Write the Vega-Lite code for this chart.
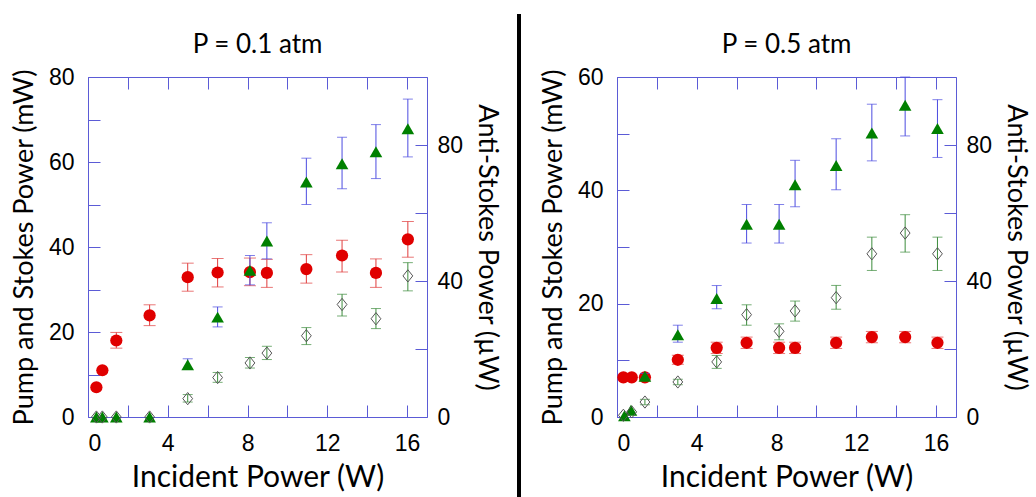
{
  "$schema": "https://vega.github.io/schema/vega-lite/v6.json",
  "background": "white",
  "padding": {"left": 10, "top": 12, "right": 0, "bottom": 0},
  "config": {
    "view": {"stroke": null},
    "axis": {
      "grid": false,
      "minExtent": 0,
      "domainColor": "#5b5bd6",
      "tickColor": "#5b5bd6",
      "tickSize": -12,
      "labelFont": "Liberation Sans",
      "labelFontSize": 23,
      "labelColor": "black",
      "titleFont": "Lato",
      "titleFontSize": 27,
      "titleFontWeight": "normal",
      "titleColor": "black"
    }
  },
  "datasets": {
    "pts": [
      {"p":"0.1","s":"pump","w":0.42,"v":7},
      {"p":"0.1","s":"pump","w":0.72,"v":11},
      {"p":"0.1","s":"pump","w":1.42,"v":18,"lo":16.2,"hi":19.9},
      {"p":"0.1","s":"pump","w":3.09,"v":23.9,"lo":21.5,"hi":26.4},
      {"p":"0.1","s":"pump","w":5.0,"v":32.9,"lo":29.6,"hi":36.2},
      {"p":"0.1","s":"pump","w":6.5,"v":34.0,"lo":30.6,"hi":37.3},
      {"p":"0.1","s":"pump","w":8.12,"v":34.1,"lo":30.9,"hi":37.4},
      {"p":"0.1","s":"pump","w":8.97,"v":33.9,"lo":30.5,"hi":37.1},
      {"p":"0.1","s":"pump","w":10.95,"v":34.8,"lo":31.5,"hi":38.2},
      {"p":"0.1","s":"pump","w":12.74,"v":38.0,"lo":34.1,"hi":41.6},
      {"p":"0.1","s":"pump","w":14.44,"v":33.9,"lo":30.5,"hi":37.2},
      {"p":"0.1","s":"pump","w":16.04,"v":41.8,"lo":37.6,"hi":46.0},
      {"p":"0.1","s":"stokes","w":0.42,"v":0},
      {"p":"0.1","s":"stokes","w":0.72,"v":0},
      {"p":"0.1","s":"stokes","w":1.42,"v":0},
      {"p":"0.1","s":"stokes","w":3.09,"v":0},
      {"p":"0.1","s":"stokes","w":5.0,"v":12.3,"lo":11.2,"hi":13.7},
      {"p":"0.1","s":"stokes","w":6.5,"v":23.5,"lo":21.2,"hi":25.9},
      {"p":"0.1","s":"stokes","w":8.12,"v":34.5,"lo":31.1,"hi":38.0},
      {"p":"0.1","s":"stokes","w":8.97,"v":41.4,"lo":37.2,"hi":45.7},
      {"p":"0.1","s":"stokes","w":10.95,"v":55.3,"lo":50.0,"hi":60.9},
      {"p":"0.1","s":"stokes","w":12.74,"v":59.6,"lo":53.7,"hi":65.8},
      {"p":"0.1","s":"stokes","w":14.44,"v":62.4,"lo":56.1,"hi":68.8},
      {"p":"0.1","s":"stokes","w":16.04,"v":67.8,"lo":61.2,"hi":74.8},
      {"p":"0.1","s":"anti","w":0.42,"v":0},
      {"p":"0.1","s":"anti","w":0.72,"v":0},
      {"p":"0.1","s":"anti","w":1.42,"v":0},
      {"p":"0.1","s":"anti","w":3.09,"v":0},
      {"p":"0.1","s":"anti","w":5.0,"v":5.4,"lo":4.4,"hi":6.6},
      {"p":"0.1","s":"anti","w":6.5,"v":11.6,"lo":10.2,"hi":13.1},
      {"p":"0.1","s":"anti","w":8.12,"v":15.9,"lo":14.4,"hi":17.5},
      {"p":"0.1","s":"anti","w":8.97,"v":18.8,"lo":16.9,"hi":20.8},
      {"p":"0.1","s":"anti","w":10.95,"v":23.9,"lo":21.3,"hi":26.3},
      {"p":"0.1","s":"anti","w":12.74,"v":33.1,"lo":29.7,"hi":36.1},
      {"p":"0.1","s":"anti","w":14.44,"v":28.9,"lo":26.0,"hi":31.9},
      {"p":"0.1","s":"anti","w":16.04,"v":41.5,"lo":37.1,"hi":45.4},
      {"p":"0.5","s":"pump","w":0.32,"v":7},
      {"p":"0.5","s":"pump","w":0.74,"v":7},
      {"p":"0.5","s":"pump","w":1.4,"v":7},
      {"p":"0.5","s":"pump","w":3.05,"v":10.1,"lo":9.3,"hi":10.9},
      {"p":"0.5","s":"pump","w":5.0,"v":12.2,"lo":11.2,"hi":13.2},
      {"p":"0.5","s":"pump","w":6.5,"v":13.1,"lo":12.1,"hi":14.1},
      {"p":"0.5","s":"pump","w":8.13,"v":12.2,"lo":11.2,"hi":13.2},
      {"p":"0.5","s":"pump","w":8.93,"v":12.2,"lo":11.2,"hi":13.2},
      {"p":"0.5","s":"pump","w":10.99,"v":13.1,"lo":12.1,"hi":14.1},
      {"p":"0.5","s":"pump","w":12.78,"v":14.1,"lo":13.1,"hi":15.1},
      {"p":"0.5","s":"pump","w":14.45,"v":14.1,"lo":13.1,"hi":15.1},
      {"p":"0.5","s":"pump","w":16.07,"v":13.1,"lo":12.1,"hi":14.1},
      {"p":"0.5","s":"stokes","w":0.37,"v":0.2},
      {"p":"0.5","s":"stokes","w":0.7,"v":1.2},
      {"p":"0.5","s":"stokes","w":1.4,"v":7.2,"lo":6.7,"hi":7.7},
      {"p":"0.5","s":"stokes","w":3.05,"v":14.5,"lo":13.2,"hi":16.2},
      {"p":"0.5","s":"stokes","w":5.0,"v":20.9,"lo":19.1,"hi":23.2},
      {"p":"0.5","s":"stokes","w":6.5,"v":34.0,"lo":30.7,"hi":37.5},
      {"p":"0.5","s":"stokes","w":8.13,"v":34.0,"lo":30.7,"hi":37.5},
      {"p":"0.5","s":"stokes","w":8.93,"v":41.0,"lo":37.1,"hi":45.3},
      {"p":"0.5","s":"stokes","w":10.99,"v":44.4,"lo":40.1,"hi":49.1},
      {"p":"0.5","s":"stokes","w":12.78,"v":50.1,"lo":45.2,"hi":55.2},
      {"p":"0.5","s":"stokes","w":14.45,"v":55.0,"lo":49.6,"hi":60.0},
      {"p":"0.5","s":"stokes","w":16.07,"v":50.9,"lo":45.8,"hi":56.0},
      {"p":"0.5","s":"anti","w":0.32,"v":0.5},
      {"p":"0.5","s":"anti","w":0.74,"v":1.5},
      {"p":"0.5","s":"anti","w":1.4,"v":4.4,"lo":3.6,"hi":5.2},
      {"p":"0.5","s":"anti","w":3.05,"v":10.3,"lo":9.5,"hi":11.1},
      {"p":"0.5","s":"anti","w":5.0,"v":16.2,"lo":14.3,"hi":18.1},
      {"p":"0.5","s":"anti","w":6.5,"v":30.1,"lo":27.0,"hi":33.0},
      {"p":"0.5","s":"anti","w":8.13,"v":25.2,"lo":22.7,"hi":27.4},
      {"p":"0.5","s":"anti","w":8.93,"v":31.2,"lo":28.2,"hi":34.1},
      {"p":"0.5","s":"anti","w":10.99,"v":35.1,"lo":31.7,"hi":38.7},
      {"p":"0.5","s":"anti","w":12.78,"v":48.0,"lo":43.1,"hi":52.9},
      {"p":"0.5","s":"anti","w":14.45,"v":54.1,"lo":48.5,"hi":59.5},
      {"p":"0.5","s":"anti","w":16.07,"v":48.0,"lo":43.1,"hi":52.9}
    ]
  },
  "spacing": 16,
  "hconcat": [
    {
      "width": 339, "height": 340,
      "data": {"name": "pts"},
      "transform": [{"filter": "datum.p === '0.1'"}],
      "title": {"text": "P = 0.1 atm", "font": "Lato", "fontSize": 26, "fontWeight": "normal", "anchor": "middle", "baseline": "alphabetic", "offset": -13, "color": "black"},
      "layer": [
        {
          "encoding": {
            "x": {"field": "w", "type": "quantitative", "scale": {"domain": [0, 17], "nice": false},
              "axis": {"orient": "bottom", "values": [0,2,4,6,8,10,12,14,16], "labelExpr": "datum.value % 4 === 0 ? datum.label : ''", "labelPadding": 27, "title": "Incident Power (W)", "titleFontSize": 30, "titlePadding": 7}}
          },
          "layer": [
            {"transform": [{"filter": "datum.s === 'pump' && isValid(datum.lo)"}],
             "mark": {"type": "errorbar", "color": "#e03c3c", "ticks": {"size": 12}},
             "encoding": {"y": {"field": "lo", "type": "quantitative", "title": "Pump and Stokes Power (mW)", "scale": {"domain": [0, 80], "nice": false}}, "y2": {"field": "hi"}}},
            {"transform": [{"filter": "datum.s === 'pump'"}],
             "mark": {"type": "point", "shape": "circle", "filled": true, "color": "#e00000", "size": 150, "opacity": 1},
             "encoding": {"y": {"field": "v", "type": "quantitative", "title": "Pump and Stokes Power (mW)", "scale": {"domain": [0, 80], "nice": false},
               "axis": {"orient": "left", "values": [0,10,20,30,40,50,60,70,80], "labelExpr": "datum.value % 20 === 0 ? datum.label : ''", "labelPadding": 26, "titlePadding": 10}}}},
            {"transform": [{"filter": "datum.s === 'stokes' && isValid(datum.lo)"}],
             "mark": {"type": "errorbar", "color": "#4b4be0", "ticks": {"size": 10}},
             "encoding": {"y": {"field": "lo", "type": "quantitative", "title": "Pump and Stokes Power (mW)"}, "y2": {"field": "hi"}}},
            {"transform": [{"filter": "datum.s === 'stokes'"}],
             "mark": {"type": "point", "shape": "triangle-up", "filled": true, "color": "#008000", "size": 160, "opacity": 1},
             "encoding": {"y": {"field": "v", "type": "quantitative", "title": "Pump and Stokes Power (mW)"}}}
          ]
        },
        {
          "encoding": {
            "x": {"field": "w", "type": "quantitative", "scale": {"domain": [0, 17], "nice": false},
              "axis": {"orient": "top", "values": [0,2,4,6,8,10,12,14,16], "labels": false, "title": null, "minExtent": 0}}
          },
          "layer": [
            {"transform": [{"filter": "datum.s === 'anti' && isValid(datum.lo)"}],
             "mark": {"type": "errorbar", "color": "#3c8c3c", "ticks": {"size": 10}},
             "encoding": {"y": {"field": "lo", "type": "quantitative", "title": "Anti-Stokes Power (µW)", "scale": {"domain": [0, 100], "nice": false}}, "y2": {"field": "hi"}}},
            {"transform": [{"filter": "datum.s === 'anti'"}],
             "mark": {"type": "point", "shape": "M0,-1L0.8,0L0,1L-0.8,0Z", "filled": false, "stroke": "#555555", "strokeWidth": 1, "size": 150, "opacity": 1},
             "encoding": {"y": {"field": "v", "type": "quantitative", "title": "Anti-Stokes Power (µW)", "scale": {"domain": [0, 100], "nice": false},
               "axis": {"orient": "right", "values": [0,20,40,60,80,100], "labelExpr": "datum.value % 40 === 0 ? datum.label : ''", "labelPadding": 22, "titleAngle": 90, "titlePadding": 10}}}}
          ]
        }
      ],
      "resolve": {"scale": {"y": "independent"}, "axis": {"x": "independent"}}
    },
    {
      "width": 5, "height": 340,
      "data": {"values": [{"k": 1}]},
      "mark": {"type": "rule", "strokeWidth": 4, "color": "black", "clip": false},
      "encoding": {
        "x": {"datum": 0.2, "type": "quantitative", "scale": {"domain": [0, 1]}, "axis": null},
        "y": {"datum": -82, "type": "quantitative", "scale": {"domain": [0, 340], "nice": false}, "axis": null},
        "y2": {"datum": 403}
      }
    },
    {
      "width": 339, "height": 340,
      "data": {"name": "pts"},
      "transform": [{"filter": "datum.p === '0.5'"}],
      "title": {"text": "P = 0.5 atm", "font": "Lato", "fontSize": 26, "fontWeight": "normal", "anchor": "middle", "baseline": "alphabetic", "offset": -13, "color": "black"},
      "layer": [
        {
          "encoding": {
            "x": {"field": "w", "type": "quantitative", "scale": {"domain": [0, 17], "nice": false},
              "axis": {"orient": "bottom", "values": [0,2,4,6,8,10,12,14,16], "labelExpr": "datum.value % 4 === 0 ? datum.label : ''", "labelPadding": 27, "title": "Incident Power (W)", "titleFontSize": 30, "titlePadding": 7}}
          },
          "layer": [
            {"transform": [{"filter": "datum.s === 'pump' && isValid(datum.lo)"}],
             "mark": {"type": "errorbar", "color": "#e03c3c", "ticks": {"size": 12}},
             "encoding": {"y": {"field": "lo", "type": "quantitative", "title": "Pump and Stokes Power (mW)", "scale": {"domain": [0, 60], "nice": false}}, "y2": {"field": "hi"}}},
            {"transform": [{"filter": "datum.s === 'pump'"}],
             "mark": {"type": "point", "shape": "circle", "filled": true, "color": "#e00000", "size": 150, "opacity": 1},
             "encoding": {"y": {"field": "v", "type": "quantitative", "title": "Pump and Stokes Power (mW)", "scale": {"domain": [0, 60], "nice": false},
               "axis": {"orient": "left", "values": [0,10,20,30,40,50,60], "labelExpr": "datum.value % 20 === 0 ? datum.label : ''", "labelPadding": 26, "titlePadding": 10}}}},
            {"transform": [{"filter": "datum.s === 'stokes' && isValid(datum.lo)"}],
             "mark": {"type": "errorbar", "color": "#4b4be0", "ticks": {"size": 10}},
             "encoding": {"y": {"field": "lo", "type": "quantitative", "title": "Pump and Stokes Power (mW)"}, "y2": {"field": "hi"}}},
            {"transform": [{"filter": "datum.s === 'stokes'"}],
             "mark": {"type": "point", "shape": "triangle-up", "filled": true, "color": "#008000", "size": 160, "opacity": 1},
             "encoding": {"y": {"field": "v", "type": "quantitative", "title": "Pump and Stokes Power (mW)"}}}
          ]
        },
        {
          "encoding": {
            "x": {"field": "w", "type": "quantitative", "scale": {"domain": [0, 17], "nice": false},
              "axis": {"orient": "top", "values": [0,2,4,6,8,10,12,14,16], "labels": false, "title": null, "minExtent": 0}}
          },
          "layer": [
            {"transform": [{"filter": "datum.s === 'anti' && isValid(datum.lo)"}],
             "mark": {"type": "errorbar", "color": "#3c8c3c", "ticks": {"size": 10}},
             "encoding": {"y": {"field": "lo", "type": "quantitative", "title": "Anti-Stokes Power (µW)", "scale": {"domain": [0, 100], "nice": false}}, "y2": {"field": "hi"}}},
            {"transform": [{"filter": "datum.s === 'anti'"}],
             "mark": {"type": "point", "shape": "M0,-1L0.8,0L0,1L-0.8,0Z", "filled": false, "stroke": "#555555", "strokeWidth": 1, "size": 150, "opacity": 1},
             "encoding": {"y": {"field": "v", "type": "quantitative", "title": "Anti-Stokes Power (µW)", "scale": {"domain": [0, 100], "nice": false},
               "axis": {"orient": "right", "values": [0,20,40,60,80,100], "labelExpr": "datum.value % 40 === 0 ? datum.label : ''", "labelPadding": 22, "titleAngle": 90, "titlePadding": 10}}}}
          ]
        }
      ],
      "resolve": {"scale": {"y": "independent"}, "axis": {"x": "independent"}}
    }
  ]
}
